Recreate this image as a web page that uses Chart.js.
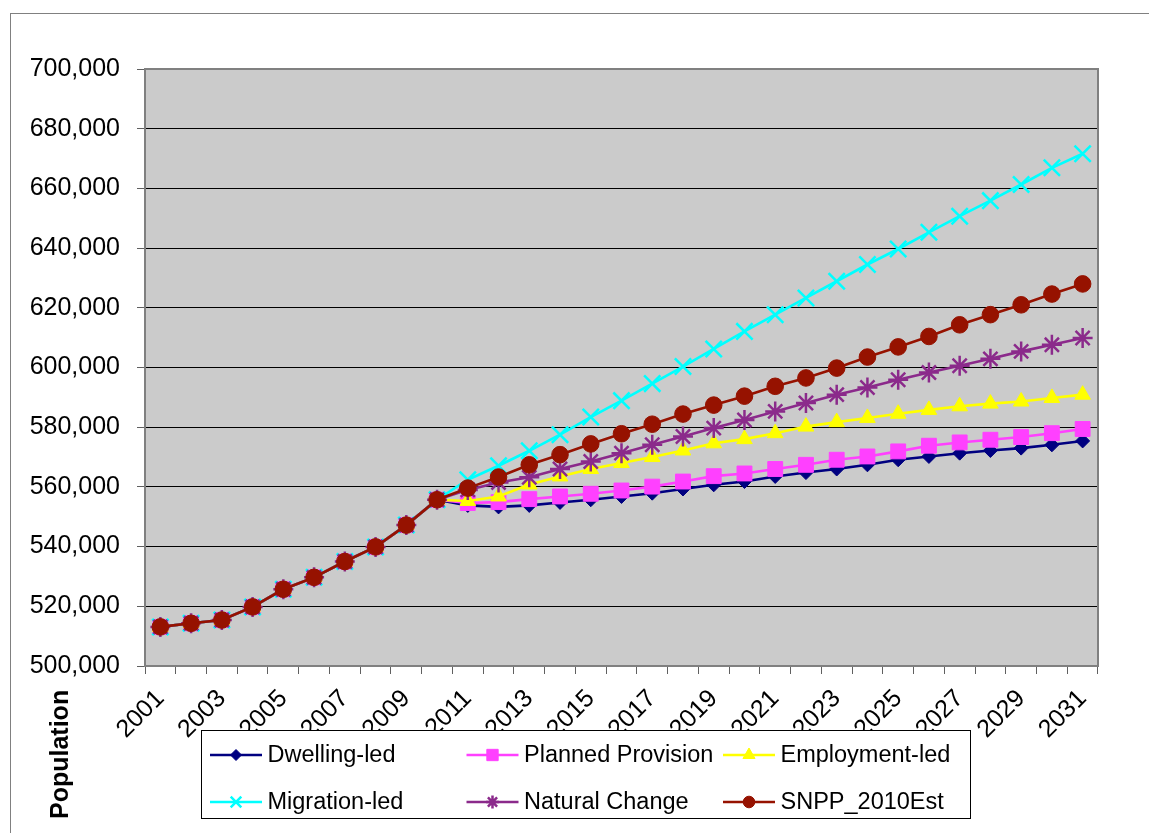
<!DOCTYPE html>
<html>
<head>
<meta charset="utf-8">
<title>Population projections</title>
<script src="https://cdn.jsdelivr.net/npm/chart.js@4.4.1/dist/chart.umd.min.js"></script>
<style>
  html, body { margin: 0; padding: 0; background: #fff; overflow: hidden; }
  #wrap { position: relative; width: 1149px; height: 833px; }
</style>
</head>
<body>
<div id="wrap"><canvas id="popChart" width="1149" height="833"></canvas></div>
<script>
// categories
const years = ["2001", "2002", "2003", "2004", "2005", "2006", "2007", "2008", "2009", "2010",
    "2011", "2012", "2013", "2014", "2015", "2016", "2017", "2018", "2019", "2020",
    "2021", "2022", "2023", "2024", "2025", "2026", "2027", "2028", "2029", "2030", "2031"];
// only every other year gets a label on the axis
const tickLabels = ["2001", "2003", "2005", "2007", "2009", "2011", "2013", "2015",
    "2017", "2019", "2021", "2023", "2025", "2027", "2029", "2031"];
const yTicks = [500000, 520000, 540000, 560000, 580000, 600000, 620000, 640000, 660000, 680000, 700000];

// 2001-2010, shared by every scenario
const history = [513100, 514300, 515400, 519800, 525700, 529700, 535000, 539900, 547200, 555700];

// 2011-2031 projections
const dwellingLed = [553800, 553300, 553800, 554800, 555700, 556800, 557900, 559300, 560700, 561800,
    563500, 564800, 566000, 567400, 569100, 570200, 571300, 572200, 573000, 574100, 575400];
const plannedProvision = [554600, 554900, 555900, 556800, 557700, 558800, 560100, 561800, 563600, 564500,
    566000, 567400, 569100, 570200, 571900, 573800, 574900, 575800, 576700, 578000, 579400];
const employmentLed = [555300, 556800, 560800, 563500, 566000, 568000, 570000, 572200, 574600, 576000,
    578000, 580200, 581700, 583100, 584500, 585800, 587000, 587900, 588600, 589800, 590900];
const migrationLed = [562400, 567100, 572100, 577500, 583400, 588900, 594600, 600300, 606200, 612100,
    617700, 623300, 628900, 634500, 639700, 645300, 650700, 655900, 661300, 666900, 671600];
const naturalChange = [559000, 561500, 563200, 566000, 568500, 571300, 574100, 576900, 579700, 582400,
    585300, 588100, 590900, 593300, 595900, 598300, 600600, 602900, 605400, 607600, 609900];
const snpp2010 = [559600, 563300, 567400, 570800, 574400, 577800, 581000, 584400, 587400, 590400,
    593700, 596500, 599800, 603500, 606900, 610400, 614300, 617700, 621000, 624600, 628000];

const seriesNames = ["Dwelling-led", "Planned Provision", "Employment-led", "Migration-led", "Natural Change", "SNPP_2010Est"];
const seriesColors = ["#000080", "#ff40ff", "#ffff00", "#00ffff", "#8b2a8b", "#961200"];
const seriesMarkers = ["rectRot", "rect", "triangle", "crossRot", "star", "circle"];
const markerSize = [7, 10.5, 9, 11.5, 10, 8.3];
const legendMarkerSize = [5.5, 8, 7, 7.5, 6.5, 5.8];

const FONT = "'Liberation Sans', Arial, sans-serif";
Chart.defaults.font.family = FONT;
Chart.defaults.color = "#000";

function makeSeries(i, projection) {
    const c = seriesColors[i];
    const crossy = seriesMarkers[i] === "crossRot" || seriesMarkers[i] === "star";
    return {
        label: seriesNames[i],
        data: history.concat(projection),
        borderColor: c,
        backgroundColor: c,
        pointBackgroundColor: c,
        pointBorderColor: c,
        pointStyle: seriesMarkers[i],
        pointRadius: markerSize[i],
        pointBorderWidth: crossy ? 2.5 : 1,
        borderWidth: 2.6,
        tension: 0,
        order: 6 - i
    };
}

// grey plot area, outer frame, plot border
const plotFrame = {
    id: "plotFrame",
    beforeDraw(chart) {
        const { ctx, chartArea: a } = chart;
        ctx.save();
        ctx.fillStyle = "#fff";
        ctx.fillRect(0, 0, chart.width, chart.height);
        ctx.strokeStyle = "#808080";
        ctx.lineWidth = 1;
        ctx.strokeRect(10.5, 13.5, chart.width + 50, chart.height + 50);
        ctx.fillStyle = "#cbcbcb";
        ctx.fillRect(a.left, a.top, a.right - a.left, a.bottom - a.top);
        ctx.restore();
    },
    beforeDatasetsDraw(chart) {
        const { ctx, chartArea: a } = chart;
        ctx.save();
        ctx.strokeStyle = "#808080";
        ctx.lineWidth = 2;
        ctx.strokeRect(a.left, a.top, a.right - a.left, a.bottom - a.top);
        ctx.restore();
    }
};

// boxed legend in 3 columns plus the axis title sitting below the axis
const legendBox = {
    id: "legendBox",
    afterDraw(chart) {
        const ctx = chart.ctx;
        ctx.save();
        ctx.fillStyle = "#fff";
        ctx.fillRect(201, 730, 769, 88);
        ctx.strokeStyle = "#000";
        ctx.lineWidth = 1;
        ctx.strokeRect(201.5, 730.5, 769, 88);

        ctx.font = "23.5px " + FONT;
        ctx.textBaseline = "middle";
        ctx.textAlign = "left";
        chart.data.datasets.forEach((ds, i) => {
            const x = 210 + (i % 3) * 256.5;
            const y = i < 3 ? 755 : 802;
            ctx.strokeStyle = ds.borderColor;
            ctx.fillStyle = ds.borderColor;
            ctx.lineWidth = 2.6;
            ctx.beginPath();
            ctx.moveTo(x, y);
            ctx.lineTo(x + 52, y);
            ctx.stroke();
            ctx.lineWidth = ds.pointBorderWidth;
            Chart.helpers.drawPoint(ctx, {
                pointStyle: ds.pointStyle,
                radius: legendMarkerSize[i],
                borderWidth: ds.pointBorderWidth,
                rotation: 0
            }, x + 26, y);
            ctx.fillStyle = "#000";
            ctx.fillText(ds.label, x + 57.5, y + 1);
        });

        ctx.translate(68, 819);
        ctx.rotate(-Math.PI / 2);
        ctx.font = "bold 25px " + FONT;
        ctx.textBaseline = "alphabetic";
        ctx.fillStyle = "#000";
        ctx.fillText("Population", 0, 0);
        ctx.restore();
    }
};

new Chart(document.getElementById("popChart"), {
    type: "line",
    data: {
        labels: years,
        datasets: [
            makeSeries(0, dwellingLed),
            makeSeries(1, plannedProvision),
            makeSeries(2, employmentLed),
            makeSeries(3, migrationLed),
            makeSeries(4, naturalChange),
            makeSeries(5, snpp2010)
        ]
    },
    options: {
        responsive: false,
        animation: false,
        devicePixelRatio: 1,
        layout: { padding: { left: 0, top: 69, right: 51, bottom: 0 } },
        plugins: {
            legend: { display: false },
            tooltip: { enabled: false },
            title: { display: false }
        },
        scales: {
            x: {
                type: "category",
                offset: true,
                grid: { offset: true, drawOnChartArea: false, drawTicks: true, tickLength: 8, color: "#606060" },
                border: { color: "#808080", width: 2 },
                ticks: {
                    autoSkip: false,
                    minRotation: 45,
                    maxRotation: 45,
                    padding: 10,
                    font: { size: 25 },
                    callback: (v, i) => tickLabels.includes(years[i]) ? years[i] : ""
                },
                afterFit: (s) => { s.height = 167; }
            },
            y: {
                min: yTicks[0],
                max: yTicks[yTicks.length - 1],
                afterBuildTicks: (s) => { s.ticks = yTicks.map(v => ({ value: v })); },
                grid: { color: "#000", lineWidth: 1, tickLength: 8, tickColor: "#606060" },
                border: { color: "#808080", width: 2 },
                ticks: {
                    padding: 17,
                    font: { size: 25 },
                    callback: (v) => v.toLocaleString("en-US")
                },
                afterFit: (s) => { s.width = 145; }
            }
        }
    },
    plugins: [plotFrame, legendBox]
});
</script>
</body>
</html>
